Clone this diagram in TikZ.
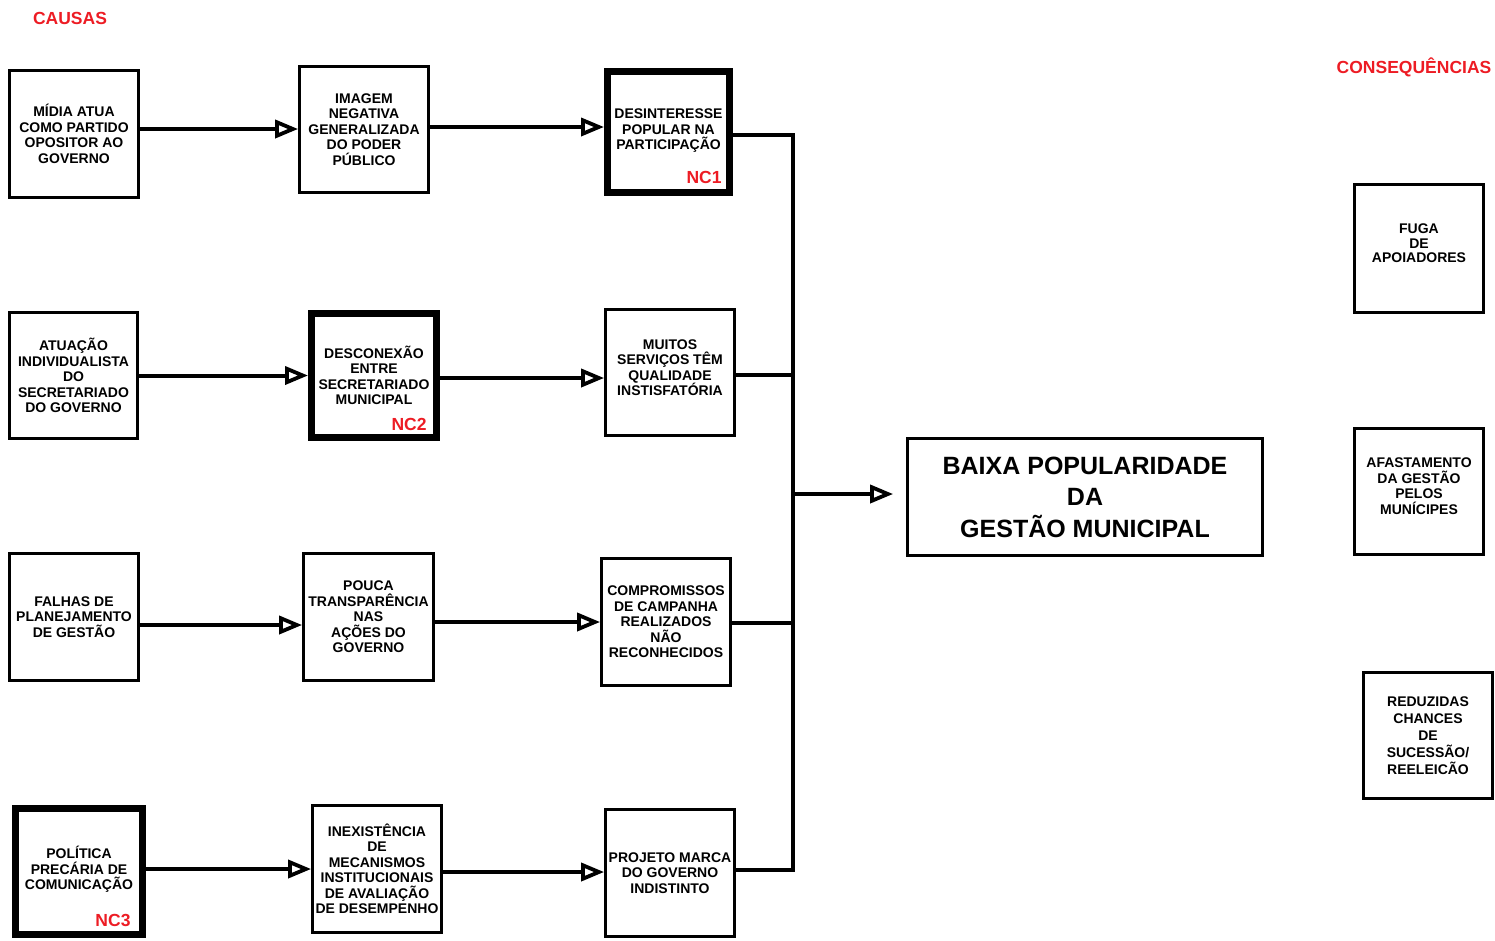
\documentclass[tikz,border=0pt]{standalone}
\usepackage{fontspec}
\setmainfont{Liberation Sans}
\usetikzlibrary{arrows.meta}
\definecolor{lblred}{RGB}{237,28,36}
\begin{document}
\begin{tikzpicture}[x=1pt,y=-1pt,
  box/.style={draw=black, line width=2.8pt, fill=white, align=center, inner sep=0pt, font=\fontsize{14}{15.5}\selectfont\bfseries},
  thickbox/.style={box, line width=7pt},
  bigbox/.style={box, font=\fontsize{25}{31.5}\selectfont\bfseries},
  nc/.style={text=lblred, font=\fontsize{17.5}{20}\selectfont\bfseries, inner sep=0pt},
  conn/.style={line width=4pt, line join=miter},
  arr/.style={conn, -{Triangle[open, length=23pt, width=18pt, line width=3.8pt]}},
]
\useasboundingbox (0,0) rectangle (1495,940);

\node[nc] (causas) at (70,18) {CAUSAS};
\node[nc] (conseq) at (1414,67) {CONSEQUÊNCIAS};

% column 1
\node[box, minimum width=129pt, minimum height=127pt] (A1) at (74,134) {MÍDIA ATUA\\COMO PARTIDO\\OPOSITOR AO\\GOVERNO};
\node[box, minimum width=128pt, minimum height=126pt] (A2) at (73.5,375.5) {ATUAÇÃO\\INDIVIDUALISTA\\DO\\SECRETARIADO\\DO GOVERNO};
\node[box, minimum width=129pt, minimum height=127pt] (A3) at (74,617) {FALHAS DE\\PLANEJAMENTO\\DE GESTÃO};
\node[thickbox, minimum width=127pt, minimum height=126pt] (A4) at (79,871.5) {POLÍTICA\\PRECÁRIA DE\\COMUNICAÇÃO\\[-8.5pt]};
\node[nc] (nc3) at (113,920) {NC3};

% column 2
\node[box, minimum width=129pt, minimum height=126pt] (B1) at (364,129.5) {IMAGEM\\NEGATIVA\\GENERALIZADA\\DO PODER\\PÚBLICO};
\node[thickbox, minimum width=125pt, minimum height=124pt] (B2) at (374,375.5) {DESCONEXÃO\\ENTRE\\SECRETARIADO\\MUNICIPAL};
\node[nc] (nc2) at (409,424) {NC2};
\node[box, minimum width=130pt, minimum height=127pt] (B3) at (368.5,617) {POUCA\\TRANSPARÊNCIA\\NAS\\AÇÕES DO\\GOVERNO};
\node[box, minimum width=129pt, minimum height=127pt] (B4) at (377,869) {INEXISTÊNCIA\\DE\\MECANISMOS\\INSTITUCIONAIS\\DE AVALIAÇÃO\\DE DESEMPENHO};

% column 3
\node[thickbox, minimum width=122pt, minimum height=121pt] (C1) at (668.5,132) {DESINTERESSE\\POPULAR NA\\PARTICIPAÇÃO\\[-10pt]};
\node[nc] (nc1) at (704,177) {NC1};
\node[box, minimum width=129pt, minimum height=126pt] (C2) at (670,372.5) {MUITOS\\SERVIÇOS TÊM\\QUALIDADE\\INSTISFATÓRIA\\[-5.5pt]};
\node[box, minimum width=129pt, minimum height=127pt] (C3) at (666,622) {COMPROMISSOS\\DE CAMPANHA\\REALIZADOS\\NÃO\\RECONHECIDOS};
\node[box, minimum width=129pt, minimum height=127pt] (C4) at (670,873) {PROJETO MARCA\\DO GOVERNO\\INDISTINTO};

% central problem
\node[bigbox, minimum width=355pt, minimum height=117pt] (D) at (1085,497) {BAIXA POPULARIDADE\\DA\\GESTÃO MUNICIPAL};

% consequences
\node[box, minimum width=129pt, minimum height=128pt, font=\fontsize{14}{14.5}\selectfont\bfseries] (E1) at (1419,248.5) {FUGA\\DE\\APOIADORES\\[-4pt]};
\node[box, minimum width=129pt, minimum height=126pt] (E2) at (1419,491.5) {AFASTAMENTO\\DA GESTÃO\\PELOS\\MUNÍCIPES\\[-4.5pt]};
\node[box, minimum width=129pt, minimum height=126pt, font=\fontsize{14}{17}\selectfont\bfseries] (E3) at (1428,735.5) {REDUZIDAS\\CHANCES\\DE\\SUCESSÃO/\\REELEICÃO};

% arrows column 1 -> column 2
\draw[arr] ([yshift=5pt]A1.east) -- ([yshift=5pt]A1.east -| B1.west);
\draw[arr] (A2.east) -- (A2.east -| B2.west);
\draw[arr] ([yshift=-8pt]A3.east) -- ([yshift=-8pt]A3.east -| B3.west);
\draw[arr] ([yshift=2.5pt]A4.east) -- ([yshift=2.5pt]A4.east -| B4.west);

% arrows column 2 -> column 3
\draw[arr] ([yshift=2.5pt]B1.east) -- ([yshift=2.5pt]B1.east -| C1.west);
\draw[arr] ([yshift=-2.5pt]B2.east) -- ([yshift=-2.5pt]B2.east -| C2.west);
\draw[arr] ([yshift=-5pt]B3.east) -- ([yshift=-5pt]B3.east -| C3.west);
\draw[arr] ([yshift=-3pt]B4.east) -- ([yshift=-3pt]B4.east -| C4.west);

% bus
\coordinate (J) at (793,494);
\draw[conn] ([yshift=-3pt]C1.east) -| (J);
\draw[conn] ([yshift=-2.5pt]C2.east) -| (J);
\draw[conn] ([yshift=-1pt]C3.east) -| (J);
\draw[conn] ([yshift=3pt]C4.east) -| (J);
\draw[arr, shorten >=13pt] (J) -- (J -| D.west);
\end{tikzpicture}
\end{document}
